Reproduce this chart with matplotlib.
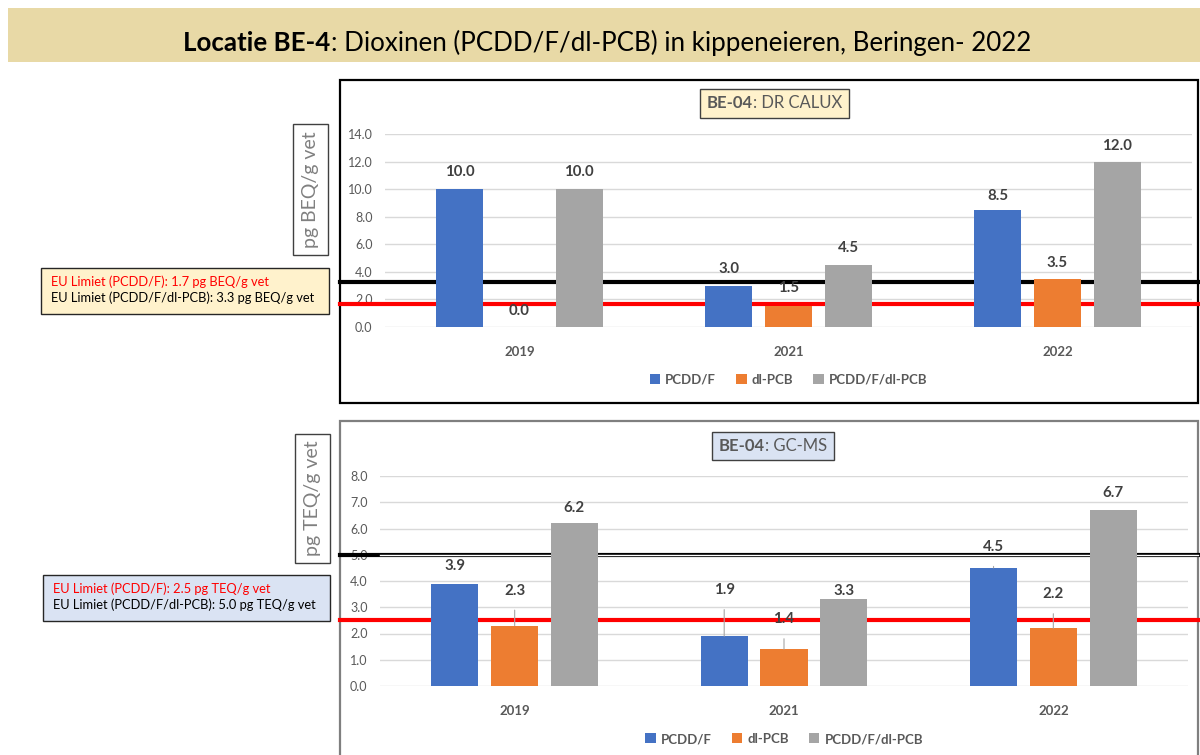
import matplotlib
matplotlib.use("Agg")
import matplotlib.pyplot as plt
from matplotlib.patches import Rectangle
import numpy as np

plt.rcParams["font.family"] = ["Lato", "DejaVu Sans"]

# data
years = ["2019", "2021", "2022"]
series = ["PCDD/F", "dl-PCB", "PCDD/F/dl-PCB"]
calux_pcdd = [10.0, 3.0, 8.5]
calux_dlpcb = [0.0, 1.5, 3.5]
calux_total = [10.0, 4.5, 12.0]
gcms_pcdd = [3.9, 1.9, 4.5]
gcms_dlpcb = [2.3, 1.4, 2.2]
gcms_total = [6.2, 3.3, 6.7]
calux_limits = [1.7, 3.3]
gcms_limits = [2.5, 5.0]
calux_ticks = [0, 2, 4, 6, 8, 10, 12, 14]
gcms_ticks = [0, 1, 2, 3, 4, 5, 6, 7, 8]

COLORS = ["#4472C4", "#ED7D31", "#A5A5A5"]
TXT = "#595959"
LBL = "#404040"
W, H = 1200, 755


def fb(x0, y0, x1, y1):
    """pixel box (top-left origin) -> figure fraction rect"""
    return [x0 / W, 1 - y1 / H, (x1 - x0) / W, (y1 - y0) / H]


def add_box(x0, y0, x1, y1, face, edge, lw=1.0, z=5):
    fig.patches.append(Rectangle((x0 / W, 1 - y1 / H), (x1 - x0) / W, (y1 - y0) / H,
                                 transform=fig.transFigure, facecolor=face,
                                 edgecolor=edge, linewidth=lw, zorder=z))


def two_part(cx, cy, bold, rest, size, color, center=True):
    """bold part + regular part on one line, optionally centred on cx"""
    t1 = fig.text(cx, cy, bold, fontsize=size, fontweight="bold", color=color,
                  ha="left", va="center", zorder=6)
    fig.canvas.draw()
    r = fig.canvas.get_renderer()
    w1 = t1.get_window_extent(r).width / W
    t2 = fig.text(cx + w1, cy, rest, fontsize=size, color=color,
                  ha="left", va="center", zorder=6)
    if center:
        w2 = t2.get_window_extent(r).width / W
        left = cx - (w1 + w2) / 2
        t1.set_x(left)
        t2.set_x(left + w1)


fig = plt.figure(figsize=(12, 7.55), dpi=100)

# banner
add_box(8, 8, 1200, 62, "#E8D9A6", "none", lw=0, z=-2)
two_part(607 / W, 1 - 43 / H, "Locatie BE-4",
         ": Dioxinen (PCDD/F/dl-PCB) in kippeneieren, Beringen- 2022",
         18.6, "black")


def panel(box, ax_px, vals, ticks, limits, sub, subcol, subbox, frame_col,
          ylabel, ylbox, limbox, limtxt, offsets, leaders, leg_y):
    # chart frame
    x0, y0, x1, y1 = box
    add_box(x0, y0, x1, y1, "white", frame_col, lw=1.6, z=-1)
    ax = fig.add_axes(fb(*ax_px))
    ax.set_facecolor("none")
    x = np.arange(len(years))
    bw, off = 0.175, 0.222
    for i, (v, c) in enumerate(zip(vals, COLORS)):
        ax.bar(x + (i - 1) * off, v, bw, color=c, zorder=3, label=series[i])
    ax.set_xlim(-0.5, 2.5)
    ax.set_ylim(ticks[0], ticks[-1])
    ax.set_yticks(ticks)
    ax.set_yticklabels([f"{t:.1f}" for t in ticks], color=TXT, fontsize=9)
    ax.set_xticks(x)
    ax.set_xticklabels(years, color=TXT, fontsize=9.5, fontweight="bold")
    ax.tick_params(length=0, axis="y", pad=9)
    ax.tick_params(length=0, axis="x", pad=14)
    for s in ax.spines.values():
        s.set_visible(False)
    ax.grid(axis="y", color="#D9D9D9", linewidth=1, zorder=0)
    ax.set_axisbelow(True)

    # limit lines across whole frame, behind the bars
    axw = ax_px[2] - ax_px[0]
    xmn = (x0 - ax_px[0]) / axw
    xmx = (x1 - ax_px[0]) / axw
    ax.axhline(limits[0], xmin=xmn, xmax=xmx, color="#FF0000", lw=3, zorder=2, clip_on=False)
    ax.axhline(limits[1], xmin=xmn, xmax=xmx, color="black", lw=3, zorder=2, clip_on=False)
    if frame_col != "black":
        ax.axhline(limits[1], xmin=(x0 + 40 - ax_px[0]) / axw, xmax=xmx, color="white",
                   lw=1, zorder=2, clip_on=False)

    # data labels
    for i, v in enumerate(vals):
        for j, val in enumerate(v):
            xp = x[j] + (i - 1) * off
            dy = offsets[i][j]
            ax.annotate(f"{val:.1f}", (xp, val), xytext=(0, dy * 0.72),
                        textcoords="offset points", ha="center", va="center",
                        fontsize=10.8, fontweight="bold", color=LBL, zorder=6,
                        arrowprops=dict(arrowstyle="-", color="#A6A6A6", lw=0.8,
                                        shrinkA=7, shrinkB=0) if leaders[i][j] else None)

    # subtitle box
    sx0, sy0, sx1, sy1 = subbox
    add_box(sx0, sy0, sx1, sy1, subcol, "#404040")
    two_part((sx0 + sx1) / 2 / W, 1 - (sy0 + sy1) / 2 / H, "BE-04", ": " + sub, 12, TXT)

    # y label box
    lx0, ly0, lx1, ly1 = ylbox
    add_box(lx0, ly0, lx1, ly1, "white", "#404040")
    fig.text((lx0 + lx1) / 2 / W, 1 - (ly0 + ly1) / 2 / H, ylabel, rotation=90,
             fontsize=14, color="#808080", ha="center", va="center", zorder=6)

    # limit text box
    bx0, by0, bx1, by1 = limbox
    add_box(bx0, by0, bx1, by1, subcol, "#262626")
    fig.text((bx0 + 10) / W, 1 - (by0 + 14) / H, limtxt[0], fontsize=9.3,
             color="#FF0000", ha="left", va="center", zorder=6)
    fig.text((bx0 + 10) / W, 1 - (by0 + 30) / H, limtxt[1], fontsize=9.3,
             color="black", ha="left", va="center", zorder=6)

    # legend
    fig.legend(handles=ax.containers, labels=series, loc="center",
               bbox_to_anchor=((ax_px[0] + ax_px[2]) / 2 / W, 1 - leg_y / H),
               ncol=3, frameon=False, handlelength=0.8, handleheight=0.8,
               handletextpad=0.4, columnspacing=1.5,
               prop={"weight": "bold", "size": 9.5}, labelcolor=TXT)
    return ax


top_offsets = [[17, 17, 14], [16, 18, 16], [17, 17, 16]]
top_leaders = [[False] * 3, [False] * 3, [False] * 3]
panel((340, 80, 1198, 403), (385, 134, 1192, 327),
      [calux_pcdd, calux_dlpcb, calux_total], calux_ticks, calux_limits,
      "DR CALUX", "#FFF2CC", (700, 89, 849, 118), "black",
      "pg BEQ/g vet", (293, 124, 328, 255), (41, 268, 329, 314),
      ["EU Limiet (PCDD/F): 1.7 pg BEQ/g vet",
       "EU Limiet (PCDD/F/dl-PCB): 3.3 pg BEQ/g vet"],
      top_offsets, top_leaders, 380)

bot_offsets = [[18, 46, 21], [35, 30, 34], [15, 8, 17]]
bot_leaders = [[False, True, True], [True, True, True], [False, False, False]]
panel((340, 421, 1198, 790), (380, 476, 1188, 686),
      [gcms_pcdd, gcms_dlpcb, gcms_total], gcms_ticks, gcms_limits,
      "GC-MS", "#DAE3F3", (712, 432, 834, 460), "#7F7F7F",
      "pg TEQ/g vet", (295, 434, 330, 563), (43, 575, 330, 621),
      ["EU Limiet (PCDD/F): 2.5 pg TEQ/g vet",
       "EU Limiet (PCDD/F/dl-PCB): 5.0 pg TEQ/g vet"],
      bot_offsets, bot_leaders, 739)

fig.savefig("out.png", dpi=100)
